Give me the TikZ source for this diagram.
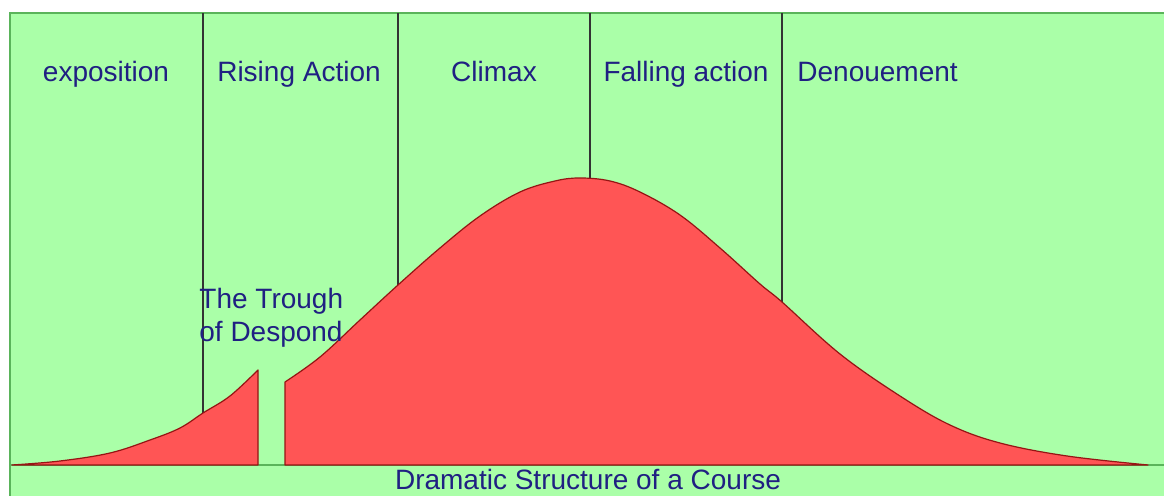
\documentclass[tikz,border=0pt]{standalone}
\usepackage{fontspec}
\setmainfont{Liberation Sans}
\usepackage{xcolor}
\usetikzlibrary{positioning, calc}
\definecolor{stagegreen}{RGB}{170,255,168}
\definecolor{stageedge}{RGB}{90,180,90}
\definecolor{arcred}{RGB}{255,85,85}
\definecolor{arcedge}{RGB}{150,20,20}
\definecolor{labelblue}{RGB}{32,32,130}

\begin{document}
\begin{tikzpicture}[
    x=0.5pt, y=-0.5pt,
    stage/.style={text=labelblue, font=\fontsize{14}{16.5}\selectfont, inner sep=0pt, anchor=base},
    divider/.style={draw=black!80, line width=0.6pt},
    arc/.style={fill=arcred, draw=arcedge, line width=0.6pt, line join=round}
]
\def \ytop{13}
\def \ybase{465}
\useasboundingbox (0,0) rectangle (1164,496);
% Background
\fill[stagegreen] (10,\ytop) rectangle (1164,496);
\draw[stageedge, line width=1pt] (10,496) -- (10,\ytop) -- (1164,\ytop);
\draw[stageedge, line width=0.8pt] (10,\ybase) -- (1164,\ybase);
% Stage dividers
\foreach \x in {203, 398, 590, 782}
    \draw[divider] (\x,\ytop) -- (\x,\ybase);
% Dramatic arc
\draw[arc] plot[smooth, tension=0.6] coordinates {(12,465) (60,461) (110,453) (150,440) (180,428) (203,413) (230,396) (258,370)} -- (258,\ybase) -- cycle;
\draw[arc] (285,\ybase) -- plot[smooth, tension=0.6] coordinates {(285,382) (320,357) (360,320) (398,285) (440,248) (480,216) (520,192) (555,181) (580,178) (610,181) (640,192) (680,215) (720,248) (760,284) (782,302) (840,354) (900,396) (950,425) (1000,443) (1067,456) (1148,465)} -- cycle;
% Labels
\node[stage] (expo)    at (106,82) {exposition};
\node[stage] (rising)  at (299,82) {Rising Action};
\node[stage] (climax)  at (494,82) {Climax};
\node[stage] (falling) at (686,82) {Falling action};
\node[stage, anchor=base west] (denoue) at (797,82) {Denouement};
\node[stage, anchor=base west, align=left] (trough) at (199,342) {The Trough\\of Despond};
\node[stage] (course)  at (588,490) {Dramatic Structure of a Course};
\end{tikzpicture}
\end{document}
